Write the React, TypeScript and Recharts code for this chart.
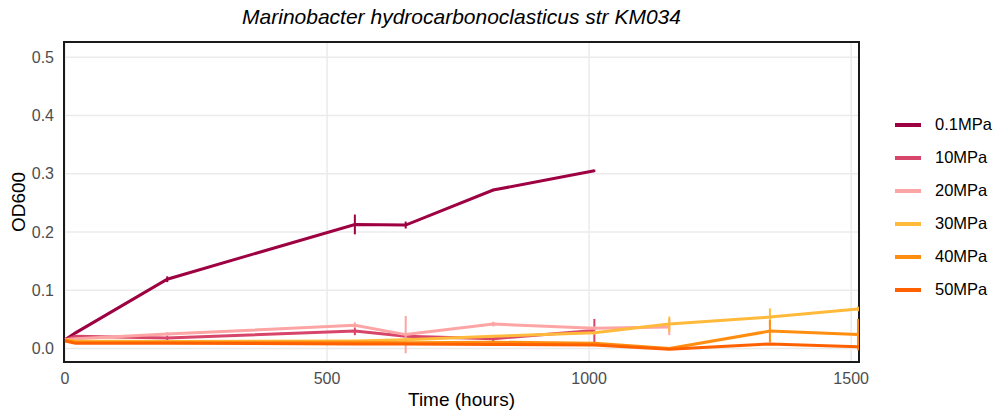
import { LineChart, Line, XAxis, YAxis, CartesianGrid, ErrorBar, ReferenceArea } from 'recharts';

// sampling times (hours)
const times = [0, 20, 195, 553, 650, 817, 1010, 1153, 1345, 1513];

// OD600 means per pressure
const od01 = [0.015, 0.027, 0.119, 0.213, 0.212, 0.272, 0.305];
const od10 = [0.015, 0.021, 0.018, 0.030, 0.021, 0.017, 0.031];
const od20 = [0.015, 0.017, 0.025, 0.040, 0.024, 0.042, 0.035, 0.037];
const od30 = [0.015, 0.013, 0.012, 0.013, 0.015, 0.021, 0.027, 0.042, 0.054, 0.068];
const od40 = [0.015, 0.011, 0.011, 0.011, 0.010, 0.011, 0.009, 0.0, 0.030, 0.024];
const od50 = [0.013, 0.009, 0.009, 0.008, 0.008, 0.007, 0.006, -0.001, 0.008, 0.003];

// standard deviations
const err01 = [0, 0.001, 0.005, 0.017, 0.006, 0.002, 0.002];
const err10 = [0, 0.002, 0.004, 0.007, 0.003, 0.004, 0.02];
const err20 = [0, 0.001, 0.003, 0.005, 0.032, 0.004, 0.003, 0.014];
const err30 = [0, 0, 0.002, 0.002, 0.002, 0.002, 0.003, 0.013, 0.015, 0.004];
const err40 = [0, 0, 0.001, 0.001, 0.001, 0.001, 0.001, 0.001, 0.019, 0.027];
const err50 = [0, 0, 0.001, 0.001, 0.001, 0.001, 0.001, 0.001, 0.002, 0.002];

const xTicks = [0, 500, 1000, 1500];
const yTicks = [0, 0.1, 0.2, 0.3, 0.4, 0.5];

const series = [
  { name: '0.1MPa', color: '#9E0142', values: od01, errors: err01 },
  { name: '10MPa', color: '#D8456A', values: od10, errors: err10 },
  { name: '20MPa', color: '#FDA4A4', values: od20, errors: err20 },
  { name: '30MPa', color: '#FFBA3B', values: od30, errors: err30 },
  { name: '40MPa', color: '#FF8E10', values: od40, errors: err40 },
  { name: '50MPa', color: '#FF6000', values: od50, errors: err50 },
];

const X_DOMAIN: [number, number] = [-2, 1515];
const Y_DOMAIN: [number, number] = [-0.023, 0.526];

function buildPoints(values: number[], errors: number[]) {
  return values.map((v, i) => ({ time: times[i], od: v, err: errors[i] }));
}

function YTitle({ viewBox }: any) {
  const cy = viewBox ? viewBox.y + viewBox.height / 2 : 202;
  return (
    <text
      x={18}
      y={cy}
      transform={`rotate(-90, 18, ${cy})`}
      textAnchor="middle"
      dominantBaseline="central"
      fontSize={19}
      fill="#000"
    >
      OD600
    </text>
  );
}

export default function App() {
  return (
    <div
      style={{
        position: 'relative',
        width: 995,
        height: 410,
        background: '#fff',
        fontFamily: '"Liberation Sans", Arial, sans-serif',
      }}
    >
      <style>{'body { margin: 0; }'}</style>
      <div
        style={{
          position: 'absolute',
          top: 0,
          left: 64,
          width: 795,
          lineHeight: '34px',
          textAlign: 'center',
          fontStyle: 'italic',
          fontSize: 21,
          color: '#000',
        }}
      >
        Marinobacter hydrocarbonoclasticus str KM034
      </div>

      <LineChart width={995} height={410} margin={{ top: 42, right: 136, bottom: 0, left: 0 }}>
        <CartesianGrid stroke="#EBEBEB" strokeWidth={1.5} />
        <XAxis
          type="number"
          dataKey="time"
          domain={X_DOMAIN}
          ticks={xTicks}
          interval={0}
          allowDataOverflow
          height={48}
          tickLine={false}
          axisLine={false}
          tickSize={0}
          tickMargin={11}
          tick={{ fill: '#4D4D4D', fontSize: 16 }}
          label={{ value: 'Time (hours)', position: 'insideBottom', offset: 4, fill: '#000', fontSize: 19 }}
        />
        <YAxis
          type="number"
          domain={Y_DOMAIN}
          ticks={yTicks}
          interval={0}
          allowDataOverflow
          width={64}
          tickLine={false}
          axisLine={false}
          tickSize={0}
          tickMargin={10}
          tickFormatter={(v: number) => v.toFixed(1)}
          tick={{ fill: '#4D4D4D', fontSize: 16 }}
          label={<YTitle />}
        />
        {series.map((s) => (
          <Line
            key={s.name}
            data={buildPoints(s.values, s.errors)}
            dataKey="od"
            name={s.name}
            type="linear"
            stroke={s.color}
            strokeWidth={3}
            dot={false}
            activeDot={false}
            isAnimationActive={false}
          >
            <ErrorBar dataKey="err" direction="y" width={0} stroke={s.color} strokeWidth={2} />
          </Line>
        ))}
        <ReferenceArea
          x1={X_DOMAIN[0]}
          x2={X_DOMAIN[1]}
          y1={Y_DOMAIN[0]}
          y2={Y_DOMAIN[1]}
          fill="none"
          stroke="#1A1A1A"
          strokeWidth={2}
          ifOverflow="visible"
        />
      </LineChart>

      <div style={{ position: 'absolute', left: 895, top: 108 }}>
        {series.map((s) => (
          <div key={s.name} style={{ display: 'flex', alignItems: 'center', height: 33 }}>
            <div style={{ width: 26, height: 4, background: s.color }} />
            <span style={{ marginLeft: 14, fontSize: 16.5, color: '#000' }}>{s.name}</span>
          </div>
        ))}
      </div>
    </div>
  );
}
